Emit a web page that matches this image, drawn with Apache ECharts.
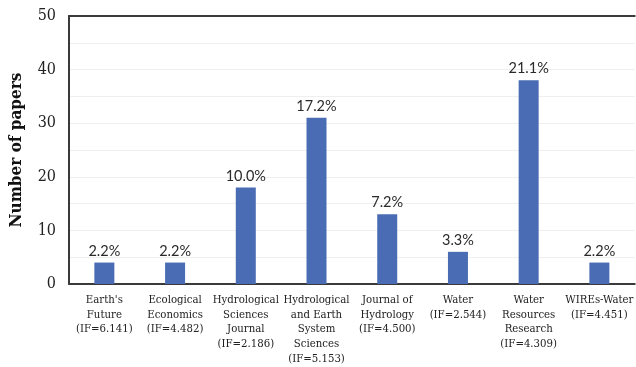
<!DOCTYPE html>
<html><head><meta charset="utf-8">
<script src="https://cdn.jsdelivr.net/npm/echarts@6/dist/echarts.min.js"></script>
<style>html,body{margin:0;padding:0;background:#fff}#c{width:636px;height:367px}</style>
</head><body><div id="c"></div>
<script>
const categories = ["Earth's\nFuture\n(IF=6.141)", "Ecological\nEconomics\n(IF=4.482)", "Hydrological\nSciences\nJournal\n(IF=2.186)", "Hydrological\nand Earth\nSystem\nSciences\n(IF=5.153)", "Journal of\nHydrology\n(IF=4.500)", "Water\n(IF=2.544)", "Water\nResources\nResearch\n(IF=4.309)", "WIREs-Water\n(IF=4.451)"];
const papers = [4, 4, 18, 31, 13, 6, 38, 4];
const percents = ["2.2%", "2.2%", "10.0%", "17.2%", "7.2%", "3.3%", "21.1%", "2.2%"];
const yTicks = [0, 10, 20, 30, 40, 50];

const serif = "'DejaVu Serif Condensed', 'DejaVu Serif', serif";
const chart = echarts.init(document.getElementById('c'), null, {renderer: 'canvas'});
chart.setOption({
  animation: false,
  grid: {left: 67, right: -3, top: 16, bottom: 83},
  xAxis: [{
    type: 'category', data: categories,
    axisLine: {show: true, lineStyle: {color: '#3a3a3a', width: 2}},
    axisTick: {show: false},
    axisLabel: {color: '#222', fontFamily: serif, fontSize: 11.3, lineHeight: 14.6, margin: 9, interval: 0, verticalAlign: 'top'}
  }, {
    type: 'category', data: categories, position: 'top',
    axisLine: {show: true, lineStyle: {color: '#3a3a3a', width: 2}},
    axisTick: {show: false}, axisLabel: {show: false}
  }],
  yAxis: {
    type: 'value', min: 0, max: 50, interval: 5,
    name: 'Number of papers', nameLocation: 'middle', nameGap: 44,
    nameTextStyle: {fontFamily: serif, fontWeight: 'bold', fontSize: 17, color: '#111'},
    axisLine: {show: true, lineStyle: {color: '#3a3a3a', width: 2}},
    axisTick: {show: false},
    axisLabel: {color: '#222', fontFamily: serif, fontSize: 16, margin: 13,
      formatter: v => yTicks.includes(v) ? String(v) : ''},
    splitLine: {show: true, lineStyle: {color: '#efefef', width: 1}}
  },
  series: [{
    type: 'bar', data: papers, barWidth: 20,
    itemStyle: {color: '#4a6cb4'},
    label: {show: true, position: 'top', distance: 4, fontFamily: "Lato, 'Open Sans', sans-serif", fontSize: 14.5, color: '#2a2a2a',
      formatter: p => percents[p.dataIndex]}
  }]
});
</script></body></html>
